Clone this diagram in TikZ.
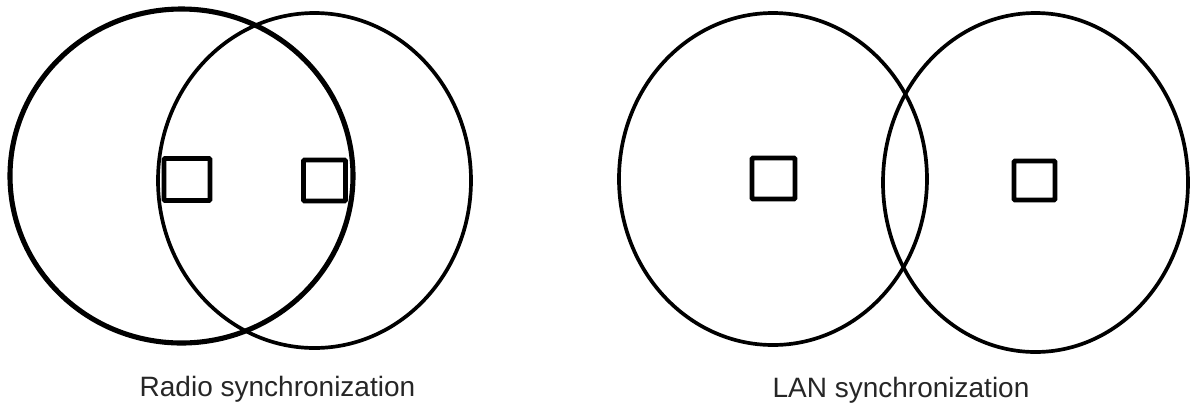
\documentclass[tikz,border=0pt]{standalone}
\usepackage{fontspec}
\setmainfont{Liberation Sans}
\tikzset{
  ring/.style={line width=1.05pt},
  station/.style={draw,line width=1.35pt,inner sep=0pt,rounded corners=0.3pt},
  caption/.style={anchor=base,text=black!85,font=\fontsize{7.97}{9.5}\selectfont}
}
\begin{document}
\begin{tikzpicture}
\useasboundingbox (0,0) rectangle (11.94,4.03);

% radio
\draw[ring,line width=1.45pt] (1.815,2.27) ellipse (1.715 and 1.67);
\draw[ring] (3.145,2.225) ellipse (1.565 and 1.675);
\node[station,minimum width=0.46cm,minimum height=0.42cm] (r1) at (1.87,2.235) {};
\node[station,minimum width=0.42cm,minimum height=0.41cm] (r2) at (3.245,2.225) {};
\node[caption] (radio) at (2.775,0.065) {Radio synchronization};

% lan
\draw[ring] (7.73,2.24) ellipse (1.54 and 1.66);
\draw[ring] (10.355,2.205) ellipse (1.525 and 1.695);
\node[station,minimum width=0.43cm,minimum height=0.41cm] (l1) at (7.735,2.245) {};
\node[station,minimum width=0.41cm,minimum height=0.39cm] (l2) at (10.345,2.225) {};
\node[caption] (lan) at (9.01,0.06) {LAN synchronization};
\end{tikzpicture}
\end{document}
